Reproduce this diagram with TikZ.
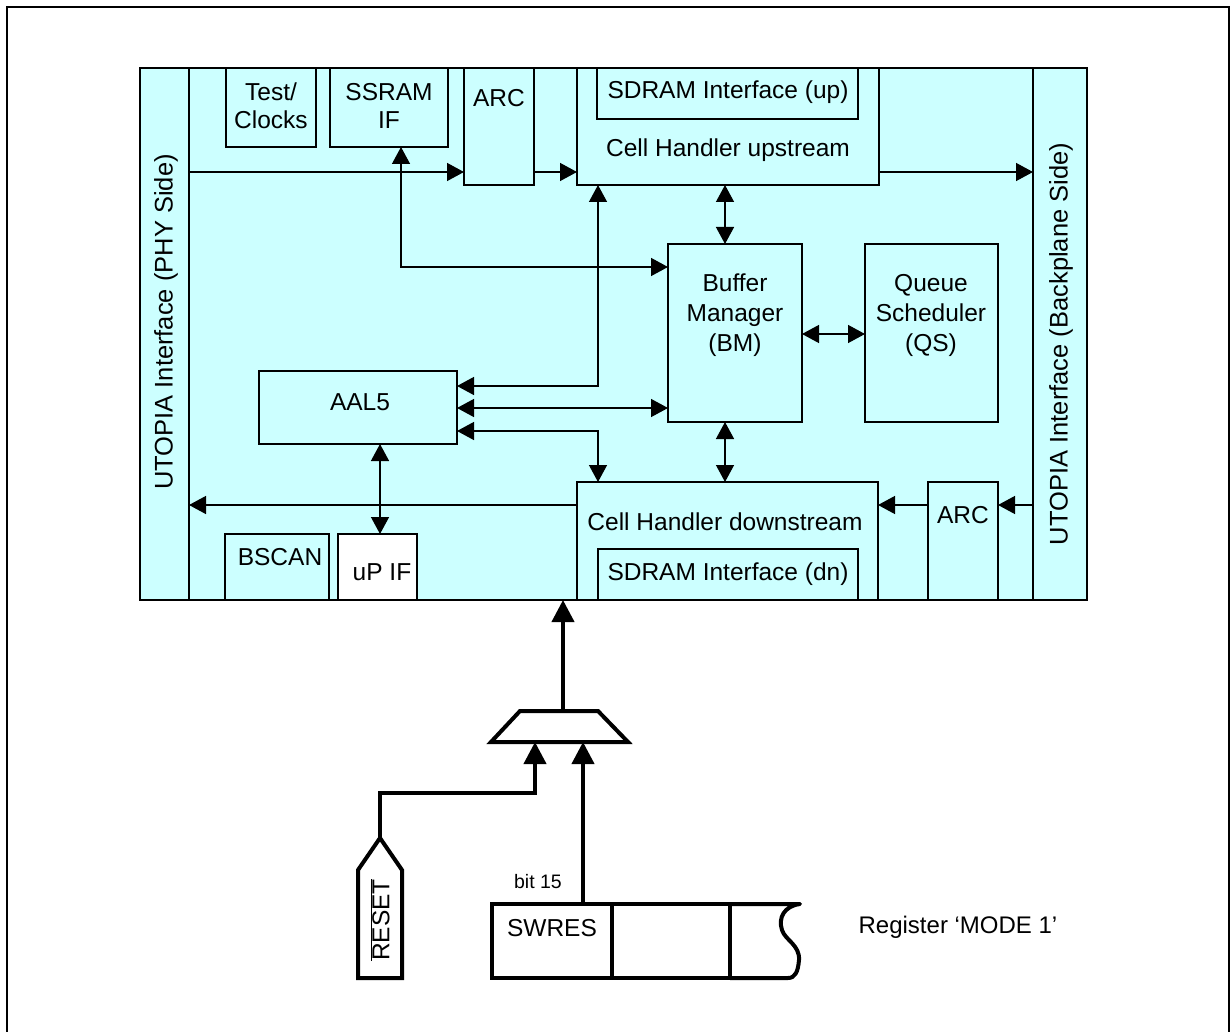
\documentclass[tikz,border=0pt]{standalone}
\usepackage{fontspec}
\setmainfont{Liberation Sans}
\usetikzlibrary{arrows.meta}
\definecolor{chipfill}{RGB}{204,255,255}
\begin{document}
\begin{tikzpicture}[x=1pt,y=-1pt,
  blk/.style={draw, line width=2.5pt, fill=chipfill, inner sep=0pt, outer sep=0pt, anchor=north west},
  lbl/.style={font=\fontsize{24.5}{28}\selectfont, inner sep=0pt, align=center},
  arr/.style={line width=1.4pt, -{Triangle[length=17pt,width=18pt]}},
  darr/.style={line width=1.4pt, {Triangle[length=17pt,width=18pt]}-{Triangle[length=17pt,width=18pt]}},
  thk/.style={line width=4pt, line join=miter},
  tarr/.style={line width=4pt, -{Triangle[length=22pt,width=22pt]}}
]
\useasboundingbox (0,0) rectangle (1231,1032);
% outer frame
\draw[line width=2.2pt] (7,1045) -- (7,7) -- (1229,7) -- (1229,1045);

% chip and blocks
\node[blk, minimum width=947pt, minimum height=532pt] (chip) at (140,68) {};
\node[blk, minimum width=49pt, minimum height=532pt] (lband) at (140,68) {};
\node[blk, minimum width=54pt, minimum height=532pt] (rband) at (1033,68) {};
\node[blk, minimum width=90pt, minimum height=79pt] (test) at (226,68) {};
\node[blk, minimum width=118pt, minimum height=79pt] (ssram) at (330,68) {};
\node[blk, minimum width=70pt, minimum height=117pt] (arcup) at (464,68) {};
\node[blk, minimum width=302pt, minimum height=117pt] (chup) at (577,68) {};
\node[blk, minimum width=261pt, minimum height=51pt] (sdup) at (597,68) {};
\node[blk, minimum width=134pt, minimum height=178pt] (bm) at (668,244) {};
\node[blk, minimum width=133pt, minimum height=178pt] (qs) at (865,244) {};
\node[blk, minimum width=198pt, minimum height=73pt] (aal5) at (259,371) {};
\node[blk, minimum width=104pt, minimum height=66pt] (bscan) at (225,534) {};
\node[blk, fill=white, minimum width=79pt, minimum height=66pt] (upif) at (338,534) {};
\node[blk, minimum width=301pt, minimum height=118pt] (chdn) at (577,482) {};
\node[blk, minimum width=260pt, minimum height=51pt] (sddn) at (598,549) {};
\node[blk, minimum width=70pt, minimum height=118pt] (arcdn) at (928,482) {};
% redraw chip outline on top
\draw[line width=2.5pt] (chip.north west) rectangle (chip.south east);

% labels
\node[lbl, rotate=90, font=\fontsize{25.5}{30}\selectfont] (tl) at (166,322) {UTOPIA Interface (PHY Side)};
\node[lbl, rotate=90, font=\fontsize{25.5}{30}\selectfont] (tr) at (1061,344) {UTOPIA Interface (Backplane Side)};
\node[lbl] (ttest) at (271,106) {Test/\\Clocks};
\node[lbl] (tssram) at (389,106) {SSRAM\\IF};
\node[lbl] (tarcup) at (499,98) {ARC};
\node[lbl] (tsdup) at (728,92) {SDRAM Interface (up)};
\node[lbl] (tchup) at (728,150) {Cell Handler upstream};
\node[lbl, font=\fontsize{24.5}{30}\selectfont] (tbm) at (735,315) {Buffer\\Manager\\(BM)};
\node[lbl, font=\fontsize{24.5}{30}\selectfont] (tqs) at (931,315) {Queue\\Scheduler\\(QS)};
\node[lbl] (taal5) at (360,402) {AAL5};
\node[lbl] (tbscan) at (280,557) {BSCAN};
\node[lbl] (tupif) at (382,572) {uP IF};
\node[lbl] (tchdn) at (725,522) {Cell Handler downstream};
\node[lbl] (tsddn) at (728,574) {SDRAM Interface (dn)};
\node[lbl] (tarcdn) at (963,515) {ARC};

% connectors inside chip
\draw[arr] (lband.east |- 0,172) -- (arcup.west |- 0,172);
\draw[arr] (arcup.east |- 0,172) -- (chup.west |- 0,172);
\draw[arr] (chup.east |- 0,172) -- (rband.west |- 0,172);
\draw[darr] (ssram.south -| 401,0) |- (bm.west |- 0,267);
\draw[darr] (chup.south -| 598,0) |- (aal5.east |- 0,386);
\draw[darr] (aal5.east |- 0,408) -- (bm.west |- 0,408);
\draw[darr] (aal5.east |- 0,431) -| (chdn.north -| 598,0);
\draw[darr] (chup.south -| 725,0) -- (bm.north -| 725,0);
\draw[darr] (bm.south -| 725,0) -- (chdn.north -| 725,0);
\draw[darr] (bm.east |- 0,334) -- (qs.west |- 0,334);
\draw[darr] (aal5.south -| 380,0) -- (upif.north -| 380,0);
\draw[arr] (chdn.west |- 0,505) -- (lband.east |- 0,505);
\draw[arr] (rband.west |- 0,505) -- (arcdn.east |- 0,505);
\draw[arr] (arcdn.west |- 0,505) -- (chdn.east |- 0,505);

% multiplexer
\draw[thk, fill=white] (491,742) -- (520,711) -- (598,711) -- (628,742) -- cycle;
\coordinate (muxtop) at (563,711);
\coordinate (in1) at (535,742);
\coordinate (in2) at (583,742);
\draw[tarr] (muxtop) -- (chip.south -| muxtop);

% RESET pin
\draw[thk, fill=white] (380,838) -- (402,870) -- (402,978) -- (358,978) -- (358,870) -- cycle;
\coordinate (rtop) at (380,838);
\node[lbl, rotate=90] (treset) at (380,920) {$\overline{\mbox{RESET}}$};
\draw[tarr] (rtop) -- (380,793) -| (in1);

% register
\node[draw, line width=4pt, inner sep=0pt, outer sep=0pt, anchor=north west, minimum width=120pt, minimum height=74pt] (swres) at (492,904) {};
\node[draw, line width=4pt, inner sep=0pt, outer sep=0pt, anchor=north west, minimum width=118pt, minimum height=74pt] (cell2) at (612,904) {};
\draw[thk, line join=round] (cell2.north east) -- (800,904)
  .. controls (784,906) and (778,918) .. (782,930)
  .. controls (785,940) and (800,945) .. (799,960)
  .. controls (798,972) and (795,978) .. (788,978) -- (cell2.south east);
\node[lbl] (tswres) at (552,928) {SWRES};
\node[lbl, font=\fontsize{19.5}{22}\selectfont] (tbit) at (538,882) {bit 15};
\draw[tarr] (swres.north -| in2) -- (in2);
\node[lbl, font=\fontsize{24}{28}\selectfont] (treg) at (958,927) {Register ‘MODE 1’};
\end{tikzpicture}
\end{document}
